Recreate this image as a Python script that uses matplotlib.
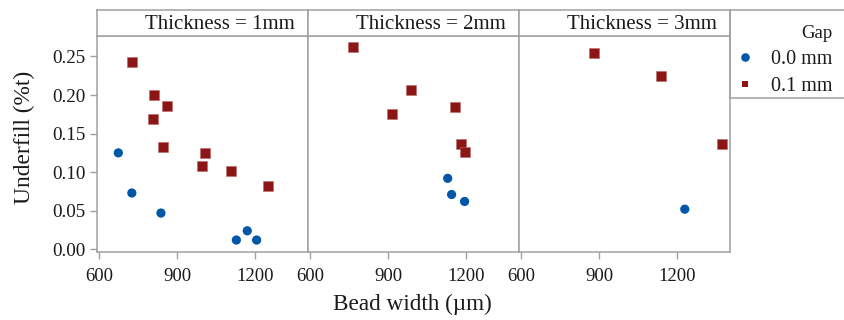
import matplotlib
matplotlib.use("Agg")
import matplotlib.pyplot as plt
from matplotlib.lines import Line2D

plt.rcParams['font.family'] = ['Liberation Serif', 'DejaVu Serif']

# ---- data ----
thickness_labels = ["Thickness = 1mm", "Thickness = 2mm", "Thickness = 3mm"]
gap_labels = ["0.0 mm", "0.1 mm"]

t1_gap0_x = [673, 725, 837, 1127, 1169, 1205]
t1_gap0_y = [0.125, 0.073, 0.047, 0.012, 0.024, 0.012]
t1_gap1_x = [724, 809, 807, 859, 843, 1007, 993, 1105, 1248]
t1_gap1_y = [0.243, 0.200, 0.169, 0.186, 0.132, 0.125, 0.108, 0.101, 0.082]

t2_gap0_x = [1129, 1144, 1194]
t2_gap0_y = [0.092, 0.071, 0.062]
t2_gap1_x = [765, 914, 987, 1157, 1179, 1194]
t2_gap1_y = [0.262, 0.175, 0.206, 0.184, 0.137, 0.126]

t3_gap0_x = [1230]
t3_gap0_y = [0.052]
t3_gap1_x = [879, 1139, 1373]
t3_gap1_y = [0.255, 0.225, 0.137]

x_ticks = [600, 900, 1200]
y_ticks = [0.00, 0.05, 0.10, 0.15, 0.20, 0.25]

# ---- styling ----
W, H = 844, 320
blue = "#0057A8"
red = "#8C1515"
spine = "#A0A0A0"
txt = "#1a1a1a"

fig = plt.figure(figsize=(W / 100, H / 100), dpi=100)

def fx(px):
    return px / W

def fy(py):
    return 1 - py / H

panel_left = 97
panel_right = 729.5
panel_w = (panel_right - panel_left) / 3
plot_top, plot_bot = 36, 252
strip_top = 10

panels = [
    (t1_gap0_x, t1_gap0_y, t1_gap1_x, t1_gap1_y),
    (t2_gap0_x, t2_gap0_y, t2_gap1_x, t2_gap1_y),
    (t3_gap0_x, t3_gap0_y, t3_gap1_x, t3_gap1_y),
]

axes = []
for i, (gx0, gy0, gx1, gy1) in enumerate(panels):
    l = panel_left + i * panel_w
    ax = fig.add_axes([fx(l), fy(plot_bot), panel_w / W, (plot_bot - plot_top) / H])
    ax.scatter(gx0, gy0, s=44, marker='o', color=blue, edgecolors='none', zorder=3)
    ax.scatter(gx1, gy1, s=48, marker='s', color=red, edgecolors='#b86a6a', linewidths=0.4, zorder=3)
    ax.set_xlim(591, 1402)
    ax.set_ylim(-0.0035, 0.2765)
    ax.set_xticks(x_ticks)
    ax.set_yticks(y_ticks)
    ax.set_xticklabels([str(v) for v in x_ticks])
    ax.tick_params(axis='x', length=5, width=1, color=spine, pad=6.5, labelsize=13.5, labelcolor=txt)
    if i == 0:
        ax.set_yticklabels([f"{v:.2f}" for v in y_ticks])
        ax.tick_params(axis='y', length=5, width=1, color=spine, pad=3, labelsize=13.8, labelcolor=txt)
    else:
        ax.tick_params(axis='y', left=False, labelleft=False)
    for s in ax.spines.values():
        s.set_color(spine)
        s.set_linewidth(1.1)
    axes.append(ax)

    # strip
    sax = fig.add_axes([fx(l), fy(plot_top), panel_w / W, (plot_top - strip_top) / H])
    sax.set_xticks([])
    sax.set_yticks([])
    for s in sax.spines.values():
        s.set_color(spine)
        s.set_linewidth(1.1)
    sax.text(0.94, 0.45, thickness_labels[i], transform=sax.transAxes,
             ha='right', va='center', fontsize=15, color=txt)

# legend area box
lax = fig.add_axes([fx(panel_right), fy(98), (W + 5 - panel_right) / W, (98 - strip_top) / H])
lax.set_xticks([])
lax.set_yticks([])
lax.patch.set_alpha(0)
for s in lax.spines.values():
    s.set_color(spine)
    s.set_linewidth(1.1)

handles = [
    Line2D([], [], marker='o', linestyle='none', color=blue, markersize=6.2, markeredgewidth=0),
    Line2D([], [], marker='s', linestyle='none', color=red, markersize=3.8, markeredgewidth=0),
]
leg = fig.legend(handles, gap_labels, title="Gap", loc='upper right',
                 bbox_to_anchor=(fx(843), fy(15)), frameon=False,
                 fontsize=14.5, title_fontsize=13.5, handlelength=1.0,
                 handletextpad=0.8, labelspacing=0.38, borderpad=0.0,
                 alignment='right')
for t in leg.get_texts():
    t.set_color(txt)
leg.get_title().set_color(txt)

fig.text(fx(24), fy(137), "Underfill (%t)", rotation=90, ha='center', va='center',
         fontsize=16.8, color=txt)
fig.text(fx(412.5), fy(304), "Bead width (\u00b5m)", ha='center', va='center',
         fontsize=16.7, color=txt)

fig.savefig("out.png", dpi=100, facecolor='white')
